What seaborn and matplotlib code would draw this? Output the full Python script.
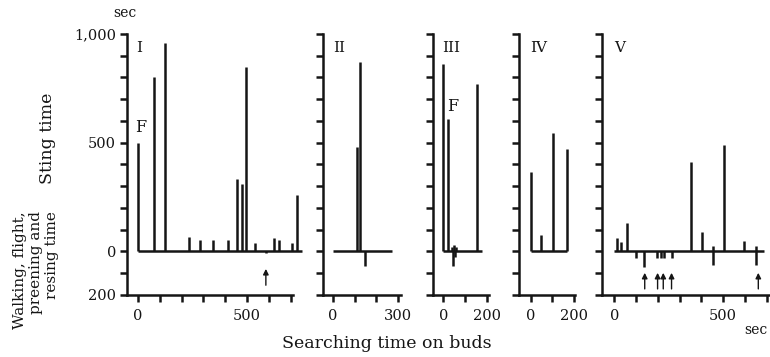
import matplotlib
matplotlib.use("Agg")
import matplotlib.pyplot as plt
import seaborn as sns

sns.set_theme(style="ticks")
plt.rcParams['font.family'] = ['DejaVu Serif']
INK = "#151515"

# ---------------- data (seconds) ----------------
# Panel I
sting_I_x = [0, 75, 125, 235, 285, 345, 415, 455, 478, 497, 537, 625, 647, 705, 730]
sting_I_y = [500, 800, 960, 65, 55, 55, 55, 335, 312, 850, 37, 64, 52, 41, 262]
walk_I_x = [587]
walk_I_y = [-8]
arrow_I = [587]
base_I = [0, 752]
# Panel II
sting_II_x = [110, 127]
sting_II_y = [480, 870]
walk_II_x = [147]
walk_II_y = [-65]
arrow_II = []
base_II = [0, 270]
# Panel III
sting_III_x = [0, 23, 38, 48, 58, 155]
sting_III_y = [860, 610, 20, 30, 22, 770]
walk_III_x = [43, 55]
walk_III_y = [-65, -25]
arrow_III = []
base_III = [0, 180]
# Panel IV
sting_IV_x = [0, 48, 104, 166]
sting_IV_y = [365, 75, 545, 470]
walk_IV_x = []
walk_IV_y = []
arrow_IV = []
base_IV = [0, 166]
# Panel V
sting_V_x = [14, 29, 57, 352, 405, 454, 505, 596, 649]
sting_V_y = [60, 44, 130, 410, 90, 26, 490, 46, 26]
walk_V_x = [98, 138, 197, 213, 230, 263, 454, 649]
walk_V_y = [-31, -73, -31, -31, -31, -31, -61, -61]
arrow_V = [140, 199, 225, 263, 661]
base_V = [0, 685]

panel_names = ["I", "II", "III", "IV", "V"]
xtick_labels = {"I": [0, 500], "II": [0, 300], "III": [0, 200], "IV": [0, 200], "V": [0, 500]}
xtick_steps = {"I": 700, "II": 300, "III": 200, "IV": 200, "V": 700}

# ---------------- layout ----------------
W, H = 770, 357
PXU = 0.218          # pixels per second on x
Y_TOP, Y_BOT = 34, 295
fig = plt.figure(figsize=(W / 100, H / 100), dpi=100)

specs = [
    ("I", 127, -50, 770, 712, sting_I_x, sting_I_y, walk_I_x, walk_I_y, arrow_I, base_I, (-80, -155)),
    ("II", 323, -45, 315, 312, sting_II_x, sting_II_y, walk_II_x, walk_II_y, arrow_II, base_II, (-100, -170)),
    ("III", 433, -47, 212, 210, sting_III_x, sting_III_y, walk_III_x, walk_III_y, arrow_III, base_III, (-100, -170)),
    ("IV", 519, -53, 206, 204, sting_IV_x, sting_IV_y, walk_IV_x, walk_IV_y, arrow_IV, base_IV, (-100, -170)),
    ("V", 602, -56, 712, 708, sting_V_x, sting_V_y, walk_V_x, walk_V_y, arrow_V, base_V, (-98, -172)),
]

LW = 1.8
for (name, left, xmin, xmax, send, sx, sy, wx, wy, arr, base, (tip, tail)) in specs:
    wpx = (xmax - xmin) * PXU
    ax = fig.add_axes([left / W, 1 - Y_BOT / H, wpx / W, (Y_BOT - Y_TOP) / H])
    ax.set_xlim(xmin, xmax)
    ax.set_ylim(-200, 1000)
    ax.patch.set_alpha(0)
    sns.despine(ax=ax)
    ax.spines['left'].set_bounds(-200, 1000)
    ax.spines['bottom'].set_bounds(xmin, send)
    for s in ('left', 'bottom'):
        ax.spines[s].set_linewidth(LW)
        ax.spines[s].set_color(INK)
    # baseline
    ax.plot(base, [0, 0], color=INK, lw=LW, solid_capstyle='butt')
    # sting (up) and walking etc. (down) bars
    ax.vlines(sx, 0, sy, color=INK, lw=LW)
    if wx:
        ax.vlines(wx, 0, wy, color=INK, lw=LW)
    for a in arr:
        ax.annotate('', xy=(a, tip), xytext=(a, tail),
                    arrowprops=dict(arrowstyle='-|>', color=INK, lw=1.0,
                                    mutation_scale=8, shrinkA=0, shrinkB=0))
    # ticks
    yt = list(range(-200, 1001, 100))
    ax.set_yticks(yt)
    if name == "I":
        lab = {-200: '200', 0: '0', 500: '500', 1000: '1,000'}
        ax.set_yticklabels([lab.get(v, '') for v in yt])
    else:
        ax.set_yticklabels([''] * len(yt))
    xt = list(range(0, xtick_steps[name] + 1, 100))
    ax.set_xticks(xt)
    ax.set_xticklabels([str(v) if v in xtick_labels[name] else '' for v in xt])
    ax.tick_params(axis='both', direction='out', length=5, width=LW, color=INK,
                   labelsize=10.5, labelcolor=INK, pad=3)
    ax.tick_params(axis='x', pad=5)
    ax.grid(False)
    # panel numeral
    lx = {"I": -8, "II": 0, "III": -7, "IV": -1, "V": 0}[name]
    ax.text(lx, 935, name, fontsize=11, color=INK, va='center', ha='left')
    if name == "I":
        ax.text(-14, 570, "F", fontsize=11.5, color=INK, va='center', ha='left')
    if name == "III":
        ax.text(18, 665, "F", fontsize=11.5, color=INK, va='center', ha='left')

def ftext(x, y, s, **kw):
    fig.text(x / W, 1 - y / H, s, color=INK, **kw)

ftext(125, 13, "sec", fontsize=10, ha='center', va='center')
ftext(47, 138, "Sting time", fontsize=12.5, rotation=90, ha='center', va='center')
ftext(20, 211, "Walking, flight,", fontsize=11, rotation=90, ha='center', va='top')
ftext(36, 211, "preening and", fontsize=11, rotation=90, ha='center', va='top')
ftext(52, 211, "resing time", fontsize=11, rotation=90, ha='center', va='top')
ftext(387, 343, "Searching time on buds", fontsize=12.5, ha='center', va='center')
ftext(756, 330, "sec", fontsize=10, ha='center', va='center')

fig.savefig("out.png", dpi=100, facecolor='white')
